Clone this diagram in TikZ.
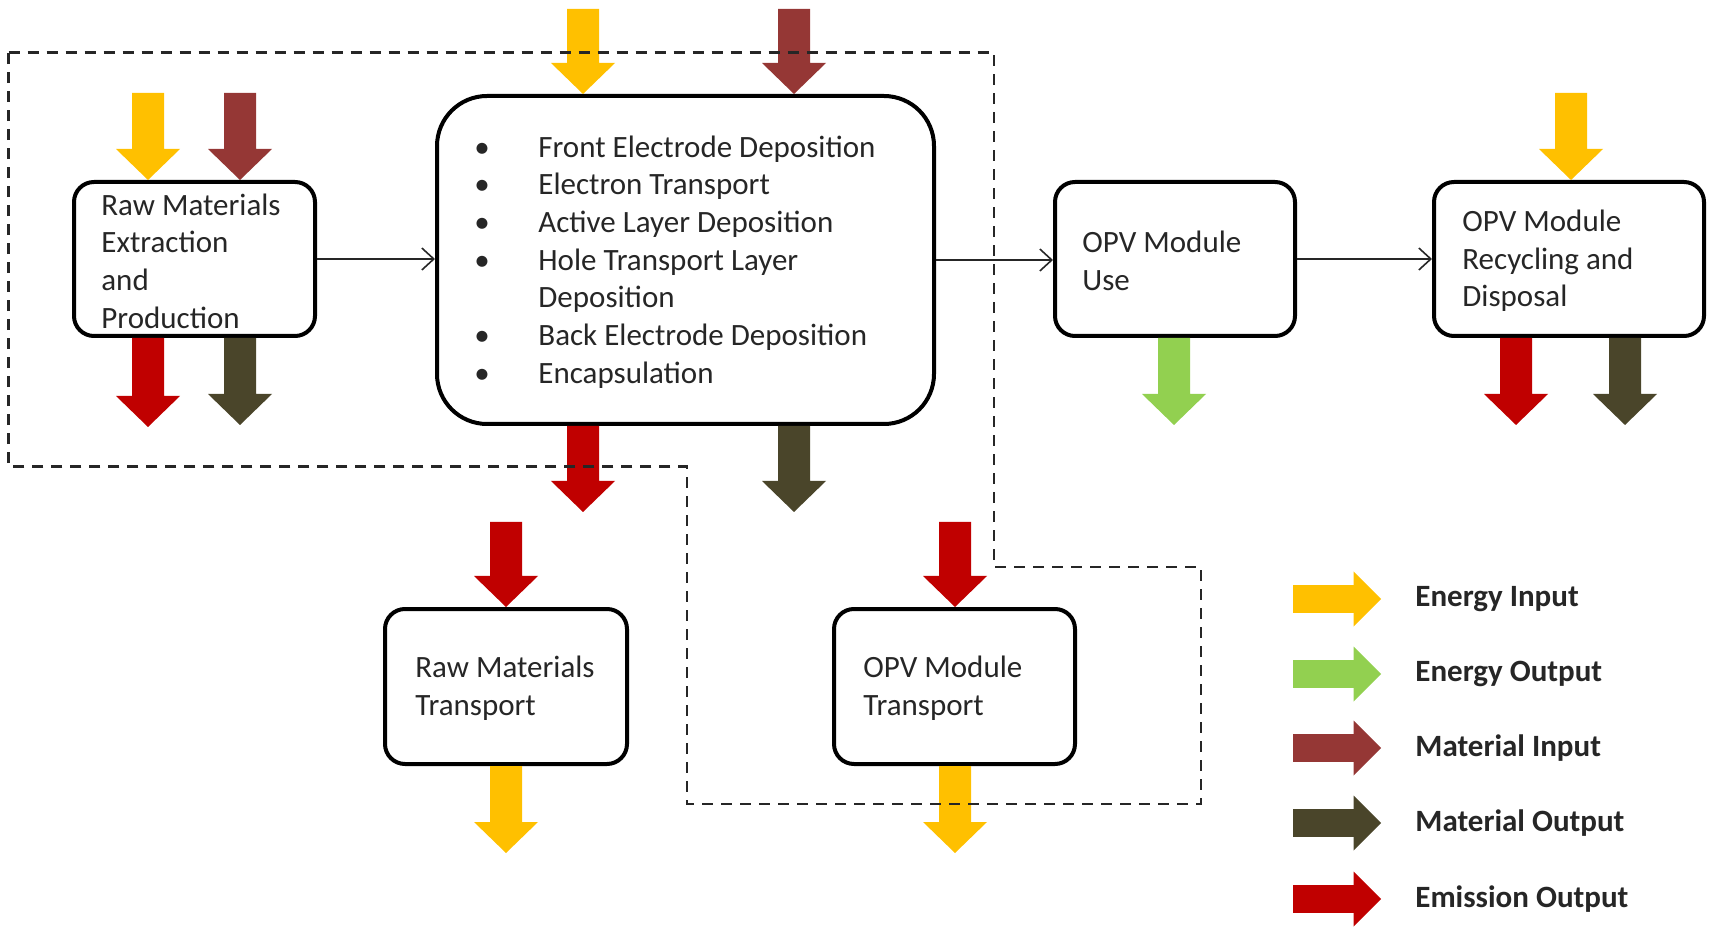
\documentclass[tikz,border=0pt]{standalone}
\usepackage{fontspec}
\setmainfont{Carlito}
\usetikzlibrary{arrows.meta,calc}

\definecolor{energyin}{HTML}{FFC000}
\definecolor{energyout}{HTML}{92D050}
\definecolor{matin}{HTML}{953735}
\definecolor{matout}{HTML}{4A452A}
\definecolor{emis}{HTML}{C00000}
\definecolor{ink}{HTML}{262626}

% Block arrow: colour, shaft half width, head half width, head length, from, to
\newcommand{\blockarrowsized}[6]{%
  \path #5 coordinate (ba0);
  \path #6 coordinate (ba1);
  \coordinate (bah) at ($(ba1)!#4!(ba0)$);
  \fill[#1] ($(ba0)!#2!90:(ba1)$) -- ($(bah)!#2!90:(ba1)$)
    -- ($(bah)!#3!90:(ba1)$) -- (ba1) -- ($(bah)!#3!-90:(ba1)$)
    -- ($(bah)!#2!-90:(ba1)$) -- ($(ba0)!#2!-90:(ba1)$) -- cycle;
}
\newcommand{\blockarrow}[3]{\blockarrowsized{#1}{8pt}{16pt}{15.5pt}{#2}{#3}}
\newcommand{\legendarrow}[3]{\blockarrowsized{#1}{6.9pt}{13.75pt}{13.75pt}{#2}{#3}}

\begin{document}
\begin{tikzpicture}[x=0.5pt, y=-0.5pt,
  box/.style={draw=black, line width=2pt, rounded corners=10pt,
    inner sep=0pt, minimum height=77pt},
  lbl/.style={inner sep=0pt, anchor=west, align=left, text=ink, yshift=-1pt,
    font=\fontsize{15.5}{18.85}\selectfont},
  legendtext/.style={inner sep=0pt, anchor=west, text=ink,
    font=\fontsize{15.5}{18.85}\selectfont\bfseries},
  flow/.style={draw=ink, line width=0.8pt,
    -{Straight Barb[length=6pt, width=11pt, line width=0.8pt]}},
  boundary/.style={draw=ink, line width=1.4pt, dash pattern=on 5.5pt off 4pt}]

\useasboundingbox (0,0) rectangle (1709,930);

% process boxes
\node[box, minimum width=120.5pt] (A) at (194.5,259) {};
\node[box, minimum width=248.5pt, minimum height=164pt, rounded corners=25pt] (B) at (685.5,260) {};
\node[box, minimum width=120pt] (C) at (1175,259) {};
\node[box, minimum width=135pt] (D) at (1569,259) {};
\node[box, minimum width=121pt, minimum height=77.5pt] (E) at (506,686.5) {};
\node[box, minimum width=120.5pt, minimum height=77.5pt] (F) at (954.5,686.5) {};

% box texts
\node[lbl] (At) at ([xshift=14.5pt]A.west) {Raw Materials\\Extraction\\and\\Production};
\node[lbl] (Bt) at ([xshift=19.5pt]B.west) {%
  \makebox[32pt][l]{•}Front Electrode Deposition\\
  \makebox[32pt][l]{•}Electron Transport\\
  \makebox[32pt][l]{•}Active Layer Deposition\\
  \makebox[32pt][l]{•}Hole Transport Layer\\
  \makebox[32pt][l]{}Deposition\\
  \makebox[32pt][l]{•}Back Electrode Deposition\\
  \makebox[32pt][l]{•}Encapsulation};
\node[lbl] (Ct) at ([xshift=14.5pt]C.west) {OPV Module\\Use};
\node[lbl] (Dt) at ([xshift=15pt]D.west) {OPV Module\\Recycling and\\Disposal};
\node[lbl] (Et) at ([xshift=16pt]E.west) {Raw Materials\\Transport};
\node[lbl] (Ft) at ([xshift=15.5pt]F.west) {OPV Module\\Transport};

% process chain
\draw[flow] (A.east) -- (A.east -| B.west);
\draw[flow] (B.east) -- (B.east -| C.west);
\draw[flow] (C.east) -- (C.east -| D.west);

% inputs and outputs of each stage
\blockarrow{energyin}{(148,93)}{(148,0 |- A.north)}
\blockarrow{matin}{(240,93)}{(240,0 |- A.north)}
\blockarrow{emis}{(148,0 |- A.south)}{(148,427)}
\blockarrow{matout}{(240,0 |- A.south)}{(240,425)}

\blockarrow{energyin}{(583,9)}{(583,0 |- B.north)}
\blockarrow{matin}{(794,9)}{(794,0 |- B.north)}
\blockarrow{emis}{(583,0 |- B.south)}{(583,512)}
\blockarrow{matout}{(794,0 |- B.south)}{(794,512)}

\blockarrow{energyout}{(1174,0 |- C.south)}{(1174,425)}

\blockarrow{energyin}{(1571,93)}{(1571,0 |- D.north)}
\blockarrow{emis}{(1516,0 |- D.south)}{(1516,425)}
\blockarrow{matout}{(1625,0 |- D.south)}{(1625,425)}

\blockarrow{emis}{(506,522)}{(506,0 |- E.north)}
\blockarrow{energyin}{(506,0 |- E.south)}{(506,853)}
\blockarrow{emis}{(955,522)}{(955,0 |- F.north)}
\blockarrow{energyin}{(955,0 |- F.south)}{(955,853)}

% system boundary
\draw[boundary] (8.7,52.5) -- (994,52.5) -- (994,567) -- (1201,567)
  -- (1201,804) -- (687,804) -- (687,466.5) -- (8.7,466.5) -- cycle;

% legend
\legendarrow{energyin}{(1293,599)}{(1381,599)}
\legendarrow{energyout}{(1293,674)}{(1381,674)}
\legendarrow{matin}{(1293,748)}{(1381,748)}
\legendarrow{matout}{(1293,823)}{(1381,823)}
\legendarrow{emis}{(1293,899)}{(1381,899)}
\node[legendtext] (L1) at (1415,599) {Energy Input};
\node[legendtext] (L2) at (1415,674) {Energy Output};
\node[legendtext] (L3) at (1415,748) {Material Input};
\node[legendtext] (L4) at (1415,823) {Material Output};
\node[legendtext] (L5) at (1415,899) {Emission Output};
\end{tikzpicture}
\end{document}
